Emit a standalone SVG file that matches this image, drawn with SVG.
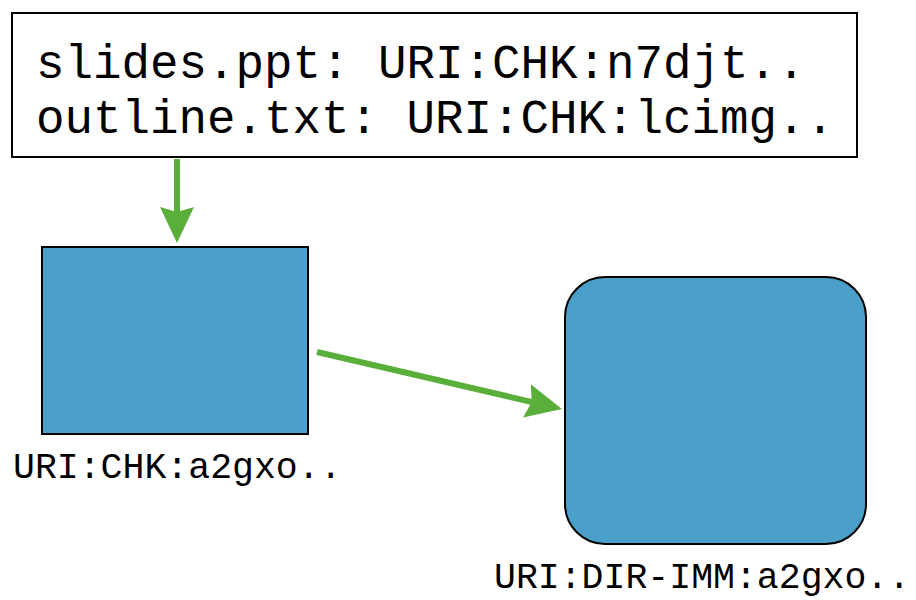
<svg xmlns="http://www.w3.org/2000/svg" width="916" height="600" viewBox="0 0 916 600">
  <style>
    .box { fill: #ffffff; stroke: #000000; stroke-width: 2; }
    .node { fill: #4ba0c9; stroke: #000000; stroke-width: 2; }
    .mono { font-family: "Liberation Mono", "Courier New", monospace; fill: #000000; }
    .big { font-size: 47.5px; }
    .small { font-size: 36.5px; }
    .edge { stroke: #5aae3a; stroke-width: 6; fill: none; marker-end: url(#arrow); }
  </style>
  <defs>
    <marker id="arrow" markerUnits="userSpaceOnUse" markerWidth="40" markerHeight="40" refX="16" refY="18" orient="auto">
      <path d="M0,1 L36,18 L0,35 L5,18 z" fill="#5aae3a"/>
    </marker>
  </defs>
  <rect width="916" height="600" fill="#ffffff"/>

  <g id="directory-listing">
    <rect class="box" x="12" y="13" width="845" height="144"/>
    <text class="mono big" x="36" y="78">slides.ppt: URI:CHK:n7djt..</text>
    <text class="mono big" x="36" y="133">outline.txt: URI:CHK:lcimg..</text>
  </g>

  <g id="chk-file">
    <rect class="node" x="42" y="247" width="266" height="187"/>
    <text class="mono small" x="13" y="478">URI:CHK:a2gxo..</text>
  </g>

  <g id="dir-imm">
    <rect class="node" x="565" y="277" width="301" height="267" rx="40" ry="40"/>
    <text class="mono small" x="494" y="588">URI:DIR-IMM:a2gxo..</text>
  </g>

  <g id="connectors">
    <line class="edge" x1="177" y1="159" x2="177" y2="223"/>
    <line class="edge" x1="317" y1="352" x2="542.5" y2="404.5"/>
  </g>
</svg>
